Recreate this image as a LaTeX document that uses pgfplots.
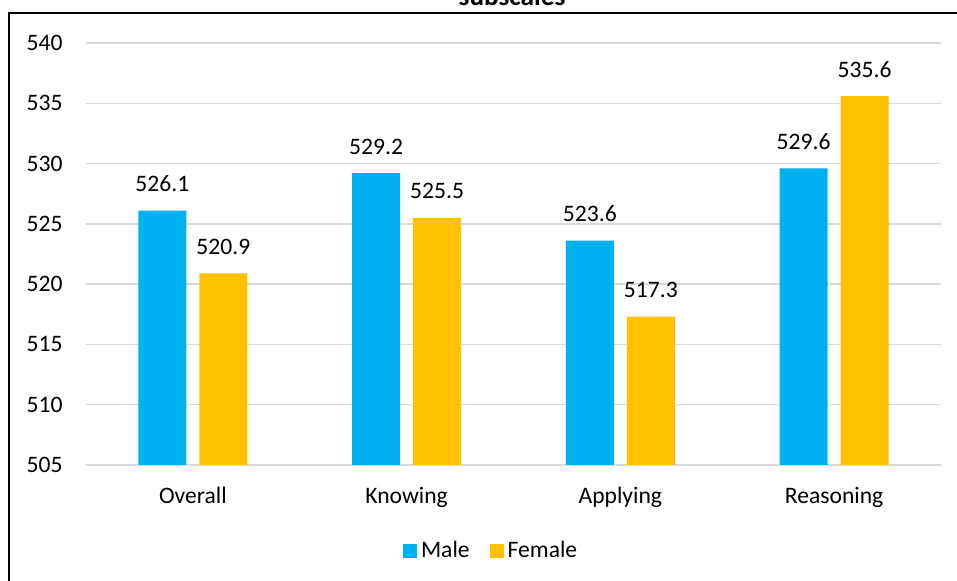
\documentclass[border=0pt]{standalone}
\usepackage{pgfplots}
\pgfplotsset{compat=1.18}
\usepackage{fontspec}
\setmainfont{Carlito}
\definecolor{male}{HTML}{00B0F0}
\definecolor{female}{HTML}{FFC000}
\definecolor{gridc}{HTML}{D9D9D9}
\begin{document}
\begin{tikzpicture}
\useasboundingbox (0,0) rectangle (478.5pt,-290.5pt);
\clip (0,0) rectangle (478.5pt,-290.5pt);
\draw[line width=0.8pt] (4.5pt,-6.5pt) rectangle (520pt,-320pt);
\node[anchor=base,inner sep=0pt,font=\bfseries\fontsize{13.6}{16}\selectfont] at (256pt,-2.7pt) {subscales};
\begin{axis}[
  at={(43pt,-232.5pt)}, anchor=south west,
  scale only axis, width=427.5pt, height=211pt,
  font=\fontsize{11.8}{14}\selectfont,
  /pgf/number format/assume math mode=true,
  ymin=505, ymax=540, xmin=-0.5, xmax=3.5,
  ytick={505,510,...,540},
  xtick={0,1,2,3},
  xticklabels={Overall,Knowing,Applying,Reasoning},
  ybar=6.5pt, bar width=24pt,
  axis lines=left,
  axis line style={draw=none},
  major tick length=0pt,
  ymajorgrids,
  grid style={gridc, line width=0.75pt},
  yticklabel style={anchor=east, inner sep=0pt, xshift=-11.5pt},
  xticklabel style={anchor=base, inner sep=0pt, yshift=-19.5pt},
  nodes near coords={\pgfmathprintnumber[fixed,precision=1,zerofill]{\pgfplotspointmeta}},
  every node near coord/.append style={anchor=base, inner sep=0pt, yshift=9.5pt, font=\fontsize{11.8}{14}\selectfont},
  legend style={at={(0.475,-0.2038)}, anchor=center, draw=none, legend columns=2,
    font=\fontsize{11.8}{14}\selectfont,
    /tikz/every even column/.append style={column sep=8pt}},
]
\addplot[fill=male, draw=none, legend image code/.code={\fill[male] (0pt,-3.5pt) rectangle (7pt,3.5pt);}]
  coordinates {(0,526.1) (1,529.2) (2,523.6) (3,529.6)};
\addplot[fill=female, draw=none, legend image code/.code={\fill[female] (0pt,-3.5pt) rectangle (7pt,3.5pt);}]
  coordinates {(0,520.9) (1,525.5) (2,517.3) (3,535.6)};
\legend{Male,Female}
\end{axis}
\end{tikzpicture}
\end{document}
